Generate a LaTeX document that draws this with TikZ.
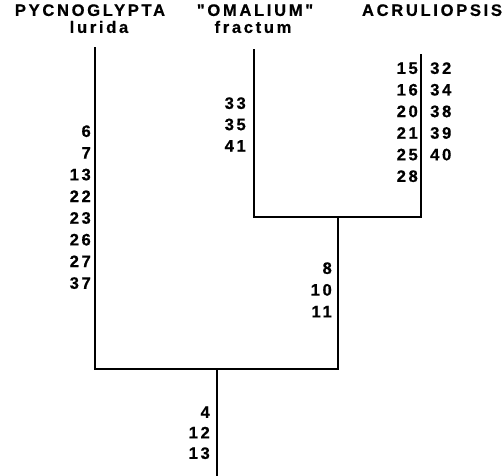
\documentclass[tikz,border=0pt]{standalone}
\usepackage{fontspec}
\newfontfamily\lab[LetterSpace=16,FakeBold=0.6]{Liberation Sans}
\begin{document}
\begin{tikzpicture}[x=1pt,y=1pt,
  branch/.style={line width=1.7pt, line cap=rect},
  num/.style={font=\lab\bfseries\fontsize{16.6}{16.6}\selectfont, inner sep=0pt, text height=11.8pt, text depth=0pt},
  taxon/.style={font=\lab\bfseries\fontsize{16.6}{16.6}\selectfont, inner sep=0pt, text height=11.8pt, text depth=0pt}]
\useasboundingbox (0,0) rectangle (503,475);
% taxa labels
\node[taxon] (p1) at (90,465) {PYCNOGLYPTA};
\node[taxon] (p2) at (99,448) {lurida};
\node[taxon] (o1) at (255,465) {"OMALIUM"};
\node[taxon] (o2) at (253,448) {fractum};
\node[taxon] (a1) at (432,465) {ACRULIOPSIS};
% tree coordinates
\coordinate (tP) at (95,427);
\coordinate (tO) at (254,425);
\coordinate (tA) at (421,420);
\coordinate (jOA) at (338,258);
\coordinate (jAll) at (217,106);
\coordinate (root) at (217,0);
\draw[branch] (tO) |- (jOA) -| (tA);
\draw[branch] (tP) |- (jAll) -| (jOA);
\draw[branch] (jAll) -- (root);
% character numbers
\foreach \n [count=\i] in {6,7,13,22,23,26,27,37}
  \node[num, anchor=east] (L\i) at (91,344-21.7*\i+21.7) {\n};
\foreach \n [count=\i] in {33,35,41}
  \node[num, anchor=east] (M\i) at (246,372-21.3*\i+21.3) {\n};
\foreach \n [count=\i] in {15,16,20,21,25,28}
  \node[num, anchor=east] (R\i) at (418,407-21.6*\i+21.6) {\n};
\foreach \n [count=\i] in {32,34,38,39,40}
  \node[num, anchor=west] (S\i) at (430,407-21.6*\i+21.6) {\n};
\foreach \n [count=\i] in {8,10,11}
  \node[num, anchor=east] (N\i) at (332,207-21.7*\i+21.7) {\n};
\foreach \n [count=\i] in {4,12,13}
  \node[num, anchor=east] (B\i) at (210,63-20.5*\i+20.5) {\n};
\end{tikzpicture}
\end{document}
